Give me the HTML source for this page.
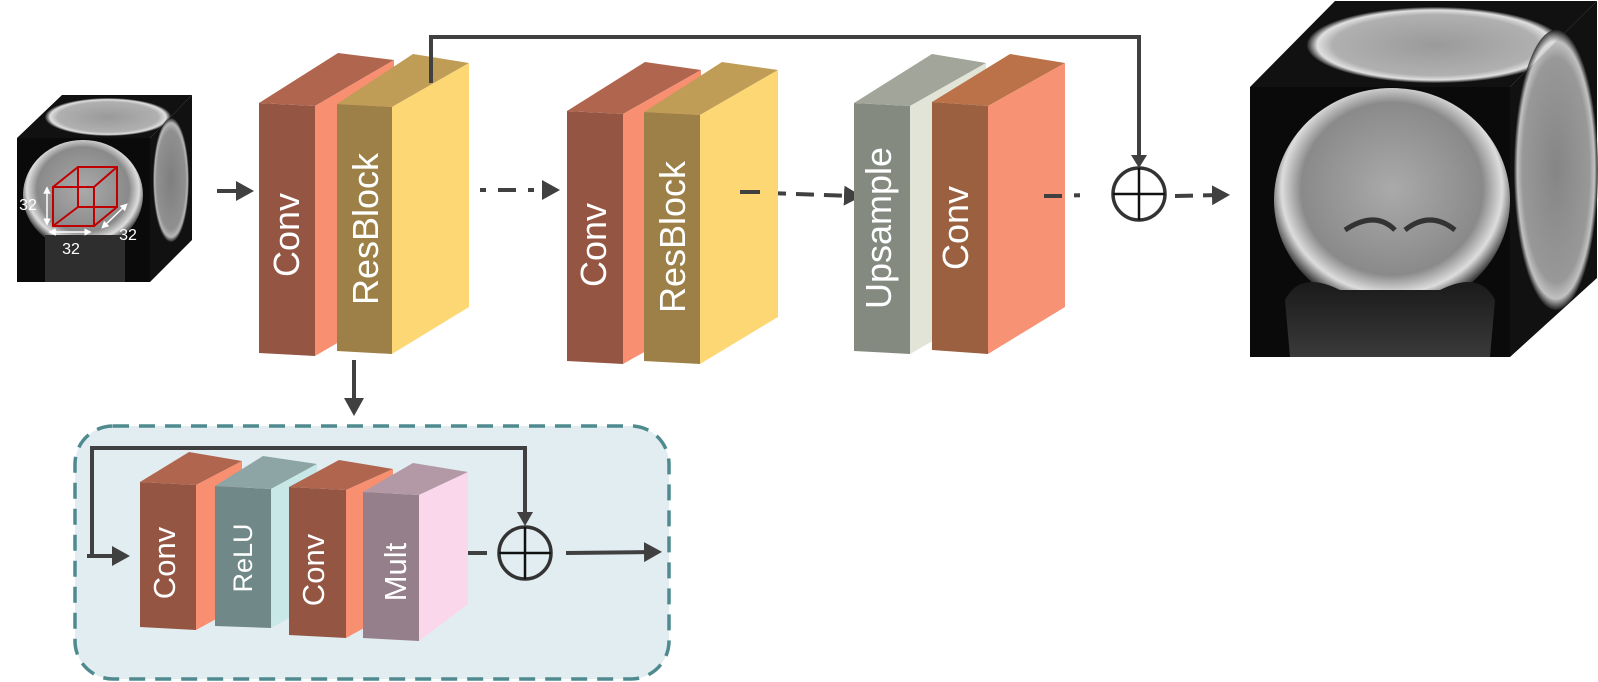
<!DOCTYPE html>
<html><head><meta charset="utf-8"><style>
html,body{margin:0;padding:0;background:#fff;}
svg{display:block;}
text{font-family:"Liberation Sans",Arial,sans-serif;fill:#fff;}
</style></head><body>
<svg width="1598" height="682" viewBox="0 0 1598 682" xmlns="http://www.w3.org/2000/svg">
<defs>
<marker id="ah" markerWidth="4.5" markerHeight="5" refX="2.5" refY="2.5" orient="auto" markerUnits="strokeWidth"><path d="M0,0 L4.5,2.5 L0,5 z" fill="#404040"/></marker>
<marker id="wh" markerWidth="5" markerHeight="5" refX="2.5" refY="2.5" orient="auto-start-reverse" markerUnits="strokeWidth"><path d="M0,0 L5,2.5 L0,5 z" fill="#fff"/></marker>
<radialGradient id="brain" cx="50%" cy="45%" r="55%"><stop offset="0" stop-color="#aaa"/><stop offset="0.7" stop-color="#8a8a8a"/><stop offset="0.85" stop-color="#ddd"/><stop offset="1" stop-color="#111"/></radialGradient>
<radialGradient id="brainT" cx="50%" cy="50%" r="50%"><stop offset="0" stop-color="#9a9a9a"/><stop offset="0.8" stop-color="#b0b0b0"/><stop offset="0.92" stop-color="#e0e0e0"/><stop offset="1" stop-color="#222"/></radialGradient>
<linearGradient id="neck" x1="0" y1="0" x2="0" y2="1"><stop offset="0" stop-color="#1a1a1a"/><stop offset="1" stop-color="#3a3a3a"/></linearGradient>
</defs>

<!-- input cube -->
<polygon points="17,138 62,95 192,95 150,138" fill="#111"/>
<ellipse cx="108" cy="117" rx="63" ry="19" fill="url(#brainT)"/>
<polygon points="150,138 192,95 192,240 150,282" fill="#111"/>
<ellipse cx="171" cy="180" rx="18" ry="62" fill="url(#brainT)" opacity="0.8"/>
<rect x="17" y="138" width="133" height="144" fill="#0a0a0a"/>
<ellipse cx="83" cy="195" rx="60" ry="55" fill="url(#brain)"/>
<rect x="45" y="235" width="80" height="47" fill="#2e2e2e"/>
<g stroke="#c00000" stroke-width="2" fill="none">
<rect x="53" y="187" width="41" height="39"/><rect x="78" y="167" width="39" height="40"/>
<line x1="53" y1="187" x2="78" y2="167"/><line x1="94" y1="187" x2="117" y2="167"/><line x1="94" y1="226" x2="117" y2="207"/><line x1="53" y1="226" x2="78" y2="207"/></g>
<g stroke="#fff" stroke-width="1.5">
<line x1="47" y1="190" x2="47" y2="222" marker-end="url(#wh)" marker-start="url(#wh)"/>
<line x1="52" y1="232" x2="88" y2="232" marker-end="url(#wh)" marker-start="url(#wh)"/>
<line x1="104" y1="226" x2="125" y2="206" marker-end="url(#wh)" marker-start="url(#wh)"/></g>
<text x="28" y="210" font-size="16" text-anchor="middle">32</text>
<text x="71" y="254" font-size="16" text-anchor="middle">32</text>
<text x="128" y="240" font-size="16" text-anchor="middle">32</text>

<!-- arrows main -->
<g stroke="#404040" stroke-width="4" fill="none">
<line x1="217" y1="191" x2="246" y2="191" marker-end="url(#ah)"/>
<polyline points="431,83 431,37 1139,37 1139,158" />
<line x1="450" y1="190" x2="552" y2="190" stroke-dasharray="18,12,6,12" marker-end="url(#ah)"/>
<line x1="740" y1="192" x2="854" y2="196" stroke-dasharray="18,10" marker-end="url(#ah)"/>
<line x1="1044" y1="196" x2="1090" y2="195" stroke-dasharray="18,12,6,12"/>
<line x1="1175" y1="196" x2="1222" y2="195" stroke-dasharray="18,10" marker-end="url(#ah)"/>
<line x1="354" y1="360" x2="354" y2="408" marker-end="url(#ah)"/>
</g>
<path d="M1131,155 L1147,155 L1139,168 z" fill="#404040"/>
<g stroke="#333" stroke-width="3.5" fill="#fff"><circle cx="1139" cy="194" r="26"/></g>
<g stroke="#111" stroke-width="2.5"><line x1="1113" y1="194" x2="1165" y2="194"/><line x1="1139" y1="168" x2="1139" y2="220"/></g>

<!-- Conv1 -->
<polygon points="259,103 315,106 315,356 259,353" fill="#945643"/>
<polygon points="259,103 338,53 394,60 315,106" fill="#b0654e"/>
<polygon points="315,106 394,60 394,310 315,356" fill="#f78f70"/>
<!-- ResBlock1 -->
<polygon points="337,104 392,107 392,354 337,351" fill="#9c8047"/>
<polygon points="337,104 413,54 469,63 392,107" fill="#c09d57"/>
<polygon points="392,107 469,63 469,307 392,354" fill="#fcd774"/>
<line x1="431" y1="37" x2="431" y2="83" stroke="#404040" stroke-width="4"/>
<!-- Conv2 -->
<polygon points="567,111 623,114 623,364 567,361" fill="#945643"/>
<polygon points="567,111 645,62 701,70 623,114" fill="#b0654e"/>
<polygon points="623,114 701,70 701,320 623,364" fill="#f78f70"/>
<!-- ResBlock2 -->
<polygon points="644,112 700,115 700,364 644,361" fill="#9c8047"/>
<polygon points="644,112 722,62 778,70 700,115" fill="#c09d57"/>
<polygon points="700,115 778,70 778,317 700,364" fill="#fcd774"/>
<line x1="740" y1="192" x2="760" y2="192" stroke="#404040" stroke-width="4"/>
<!-- Upsample -->
<polygon points="854,103 910,106 910,354 854,351" fill="#858a80"/>
<polygon points="854,103 932,54 986,63 910,106" fill="#a2a59a"/>
<polygon points="910,106 986,63 986,310 910,354" fill="#e1e4d6"/>
<!-- Conv3 -->
<polygon points="932,102 988,106 988,354 932,350" fill="#9a6040"/>
<polygon points="932,102 1010,54 1065,63 988,106" fill="#bb7249"/>
<polygon points="988,106 1065,63 1065,307 988,354" fill="#f79274"/>
<line x1="1044" y1="196" x2="1062" y2="196" stroke="#404040" stroke-width="4"/>

<g font-size="36">
<text transform="translate(299,235) rotate(-90)" text-anchor="middle">Conv</text>
<text transform="translate(378,229) rotate(-90)" text-anchor="middle">ResBlock</text>
<text transform="translate(606,245) rotate(-90)" text-anchor="middle">Conv</text>
<text transform="translate(685,237) rotate(-90)" text-anchor="middle">ResBlock</text>
<text transform="translate(891,228) rotate(-90)" text-anchor="middle">Upsample</text>
<text transform="translate(968,228) rotate(-90)" text-anchor="middle">Conv</text>
</g>

<!-- output cube -->
<polygon points="1250,87 1335,1 1597,1 1510,87" fill="#111"/>
<ellipse cx="1435" cy="45" rx="128" ry="38" fill="url(#brainT)"/>
<polygon points="1510,87 1597,1 1597,278 1510,357" fill="#111"/>
<ellipse cx="1556" cy="170" rx="42" ry="140" fill="url(#brainT)" opacity="0.85"/>
<rect x="1250" y="87" width="260" height="270" fill="#0a0a0a"/>
<ellipse cx="1392" cy="200" rx="118" ry="112" fill="url(#brain)"/>
<path d="M1285,300 Q1300,270 1340,290 L1440,290 Q1480,270 1495,300 L1490,357 L1290,357 z" fill="url(#neck)"/>
<path d="M1345,230 q30,-20 50,0 M1405,230 q25,-20 50,0" stroke="#333" stroke-width="5" fill="none"/>

<!-- bottom panel -->
<rect x="75" y="426" width="594" height="253" rx="38" ry="38" fill="#e1edf1" stroke="#4f8a8f" stroke-width="3.5" stroke-dasharray="16,10"/>
<g stroke="#404040" stroke-width="4" fill="none">
<polyline points="92,554 92,448 525,448 525,515"/>
<line x1="87" y1="556" x2="122" y2="556" marker-end="url(#ah)"/>
<line x1="446" y1="553" x2="487" y2="553"/>
<line x1="566" y1="553" x2="654" y2="552" marker-end="url(#ah)"/>
</g>
<path d="M517,512 L533,512 L525,526 z" fill="#404040"/>
<!-- Conv a -->
<polygon points="140,482 196,485 196,630 140,627" fill="#945643"/>
<polygon points="140,482 189,452 242,461 196,485" fill="#b0654e"/>
<polygon points="196,485 242,461 242,605 196,630" fill="#f78f70"/>
<!-- ReLU -->
<polygon points="215,486 271,489 271,628 215,626" fill="#708888"/>
<polygon points="215,486 263,456 317,464 271,489" fill="#8ea5a5"/>
<polygon points="271,489 317,464 317,603 271,628" fill="#c8e8e8"/>
<!-- Conv b -->
<polygon points="289,487 346,490 346,638 289,635" fill="#945643"/>
<polygon points="289,487 339,460 393,469 346,490" fill="#b0654e"/>
<polygon points="346,490 393,469 393,612 346,638" fill="#f78f70"/>
<!-- Mult -->
<polygon points="363,492 419,495 419,641 363,638" fill="#957f8a"/>
<polygon points="363,492 413,463 468,472 419,495" fill="#b398a6"/>
<polygon points="419,495 468,472 468,604 419,641" fill="#fad7ea"/>

<g font-size="31">
<text transform="translate(175,563) rotate(-90)" text-anchor="middle">Conv</text>
<text transform="translate(252,558) rotate(-90)" font-size="27" text-anchor="middle">ReLU</text>
<text transform="translate(324,570) rotate(-90)" text-anchor="middle">Conv</text>
<text transform="translate(406,572) rotate(-90)" text-anchor="middle">Mult</text>
</g>
<circle cx="525" cy="553" r="26" fill="none" stroke="#333" stroke-width="3.5"/>
<g stroke="#111" stroke-width="2.5"><line x1="499" y1="553" x2="551" y2="553"/><line x1="525" y1="527" x2="525" y2="579"/></g>
</svg>
</body></html>
